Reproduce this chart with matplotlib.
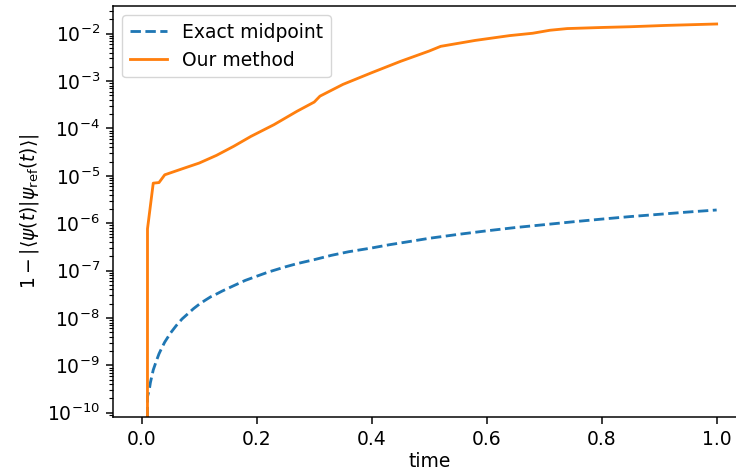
import matplotlib
matplotlib.use("Agg")
import matplotlib.pyplot as plt

# ---- data ----
time_exact = [0.0, 0.01, 0.013, 0.015, 0.02, 0.025, 0.03, 0.035, 0.04, 0.05, 0.06,
              0.07, 0.08, 0.09, 0.10, 0.11, 0.12, 0.13, 0.14, 0.16, 0.18, 0.20,
              0.22, 0.25, 0.27, 0.30, 0.33, 0.36, 0.40, 0.43, 0.46, 0.50, 0.55,
              0.60, 0.65, 0.70, 0.75, 0.80, 0.85, 0.90, 0.95, 1.00]
err_exact = [0.0, 2.2e-10, 3.0e-10, 4.3e-10, 8.0e-10, 1.2e-9, 1.75e-9, 2.35e-9,
             3.1e-9, 4.8e-9, 6.9e-9, 9.5e-9, 1.22e-8, 1.57e-8, 1.95e-8, 2.35e-8,
             2.8e-8, 3.2e-8, 3.7e-8, 4.8e-8, 6.2e-8, 7.6e-8, 9.3e-8, 1.2e-7,
             1.4e-7, 1.7e-7, 2.1e-7, 2.5e-7, 3.0e-7, 3.5e-7, 4.0e-7, 4.8e-7,
             5.8e-7, 6.9e-7, 8.1e-7, 9.3e-7, 1.07e-6, 1.22e-6, 1.38e-6, 1.54e-6,
             1.72e-6, 1.9e-6]

time_ours = [0.0, 0.01, 0.02, 0.03, 0.04, 0.07, 0.10, 0.13, 0.16, 0.19, 0.23,
             0.27, 0.30, 0.31, 0.35, 0.40, 0.45, 0.50, 0.52, 0.58, 0.64, 0.68,
             0.71, 0.74, 0.80, 0.85, 0.91, 1.00]
err_ours = [0.0, 7.6e-7, 7.0e-6, 7.2e-6, 1.05e-5, 1.4e-5, 1.86e-5, 2.7e-5,
            4.2e-5, 6.8e-5, 1.2e-4, 2.3e-4, 3.6e-4, 4.8e-4, 8.5e-4, 1.5e-3,
            2.6e-3, 4.3e-3, 5.4e-3, 7.2e-3, 9.1e-3, 1.02e-2, 1.18e-2, 1.28e-2,
            1.35e-2, 1.40e-2, 1.49e-2, 1.60e-2]

labels = ["Exact midpoint", "Our method"]

k = 1.35
plt.rcParams.update({
    "font.size": 10 * k,
    "lines.linewidth": 1.5 * k,
    "axes.linewidth": 0.8 * k,
    "xtick.major.size": 3.5 * k,
    "ytick.major.size": 3.5 * k,
    "xtick.minor.size": 2.0 * k,
    "ytick.minor.size": 2.0 * k,
    "xtick.major.width": 0.8 * k,
    "ytick.major.width": 0.8 * k,
    "xtick.minor.width": 0.6 * k,
    "ytick.minor.width": 0.6 * k,
    "xtick.major.pad": 3.5 * k,
    "ytick.major.pad": 3.5 * k,
})

fig = plt.figure(figsize=(7.36, 4.76), dpi=100)
ax = fig.add_axes([113 / 736, 59 / 476, (745.4 - 113) / 736, (417 - 5.7) / 476])

ax.plot(time_exact, err_exact, "--", color="#1f77b4", label=labels[0])
ax.plot(time_ours, err_ours, "-", color="#ff7f0e", label=labels[1])
ax.set_yscale("log")
ax.set_xlim(-0.05, 1.05)
ax.set_ylim(10 ** -10.09, 10 ** -1.41)
ax.set_xticks([0.0, 0.2, 0.4, 0.6, 0.8, 1.0])
ax.spines["right"].set_visible(False)
ax.set_xlabel("time", labelpad=2)
ax.set_ylabel(r"$1-|\langle\psi(t)|\psi_{\mathrm{ref}}(t)\rangle|$")
ax.legend(loc="upper left")

fig.savefig("out.png", dpi=100)
